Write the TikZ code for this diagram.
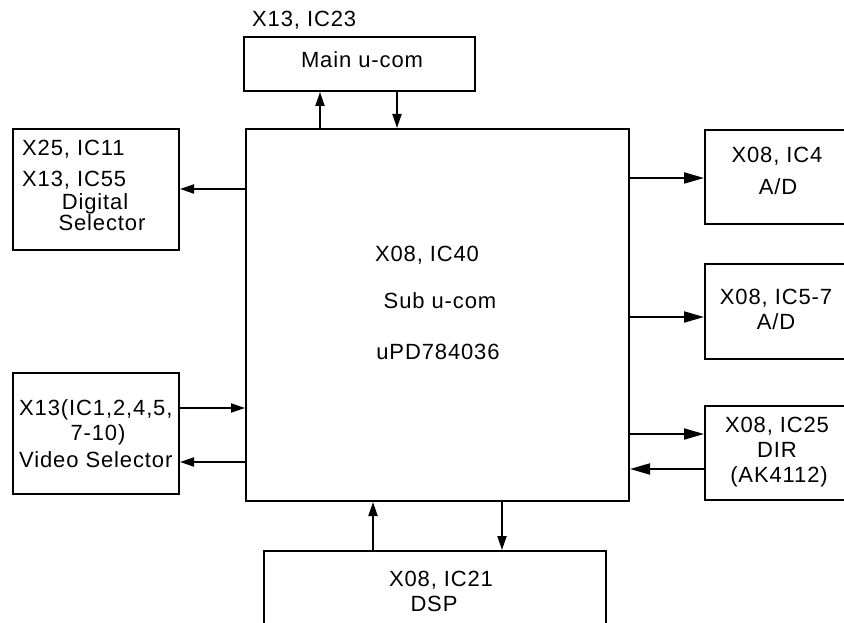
\documentclass[tikz,border=0pt]{standalone}
\usepackage{fontspec}
\setmainfont{Liberation Sans}[LetterSpace=4]
\usetikzlibrary{arrows.meta}
\begin{document}
\begin{tikzpicture}[x=1pt,y=-1pt,
  box/.style={draw,line width=2pt,rectangle,inner sep=0pt,anchor=north west},
  txt/.style={inner sep=0pt,anchor=base,font=\fontsize{22}{25}\selectfont},
  txtl/.style={txt,anchor=base west},
  arr/.style={line width=2pt,-{Triangle[length=14pt,width=9pt]}},
  arrbig/.style={line width=2pt,-{Triangle[length=20pt,width=11pt]}}]
\clip (0,0) rectangle (844,623);
% boxes
\node[box,minimum width=231pt,minimum height=54pt] (main) at (243,36) {};
\node[box,minimum width=383pt,minimum height=372pt] (sub) at (245,128) {};
\node[box,minimum width=166pt,minimum height=121pt] (dig) at (12,128) {};
\node[box,minimum width=166pt,minimum height=121pt] (vid) at (12,372) {};
\node[box,minimum width=150pt,minimum height=94pt] (ad1) at (704,129) {};
\node[box,minimum width=150pt,minimum height=95pt] (ad2) at (704,263) {};
\node[box,minimum width=150pt,minimum height=94pt] (dir) at (704,405) {};
\node[box,minimum width=342pt,minimum height=100pt] (dsp) at (263,550) {};
% texts
\node[txtl] (tmainl) at (252,26.5) {X13, IC23};
\node[txt] (tmain) at (362,68) {Main u-com};
\node[txtl] (tdig1) at (22,155.5) {X25, IC11};
\node[txtl] (tdig2) at (22,186) {X13, IC55};
\node[txt] (tdig3) at (95,209) {Digital};
\node[txt] (tdig4) at (102,230.5) {Selector};
\node[txt] (tsub1) at (427,261) {X08, IC40};
\node[txt] (tsub2) at (440,308) {Sub u-com};
\node[txt] (tsub3) at (438,359) {uPD784036};
\node[txt] (tad11) at (777,163) {X08, IC4};
\node[txt] (tad12) at (778,194.5) {A/D};
\node[txt] (tad21) at (776,304) {X08, IC5-7};
\node[txt] (tad22) at (776,329) {A/D};
\node[txt] (tdir1) at (777,432.5) {X08, IC25};
\node[txt] (tdir2) at (777,457.5) {DIR};
\node[txt] (tdir3) at (779,482) {(AK4112)};
\node[txtl] (tvid1) at (19,415.5) {X13(IC1,2,4,5,};
\node[txt] (tvid2) at (98,440) {7-10)};
\node[txtl] (tvid3) at (19,467.5) {Video Selector};
\node[txt] (tdsp1) at (441,586) {X08, IC21};
\node[txt] (tdsp2) at (434,611) {DSP};
% connectors
\draw[arr] (sub.north -| 320,0) -- (main.south -| 320,0);
\draw[arr] (main.south -| 397,0) -- (sub.north -| 397,0);
\draw[arr] (sub.west |- 0,189) -- (dig.east |- 0,189);
\draw[arrbig] (sub.east |- 0,178) -- (ad1.west |- 0,178);
\draw[arrbig] (sub.east |- 0,317) -- (ad2.west |- 0,317);
\draw[arrbig] (sub.east |- 0,434) -- (dir.west |- 0,434);
\draw[arrbig] (dir.west |- 0,469) -- (sub.east |- 0,469);
\draw[arr] (vid.east |- 0,408) -- (sub.west |- 0,408);
\draw[arr] (sub.west |- 0,462) -- (vid.east |- 0,462);
\draw[arr] (dsp.north -| 373,0) -- (sub.south -| 373,0);
\draw[arr] (sub.south -| 502,0) -- (dsp.north -| 502,0);
\end{tikzpicture}
\end{document}
